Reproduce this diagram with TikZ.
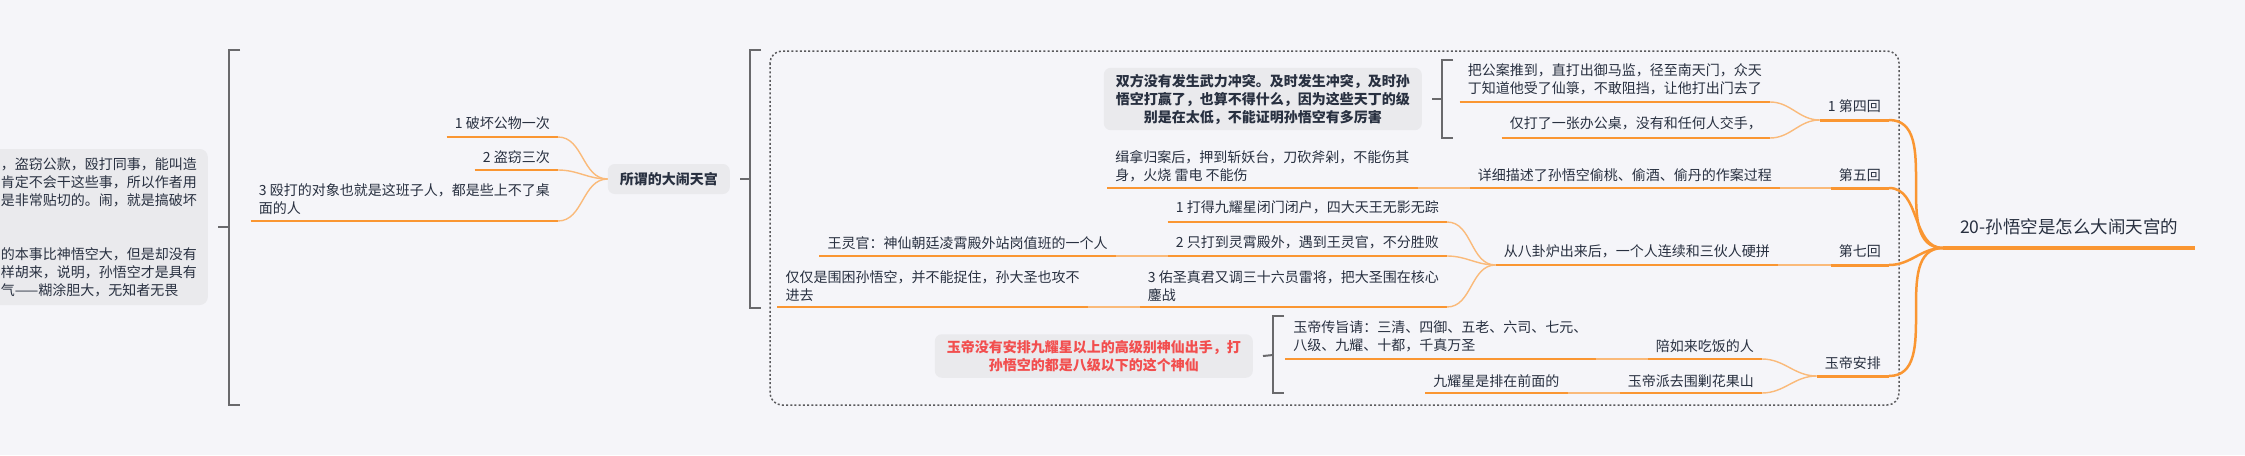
\documentclass[tikz,border=0pt]{standalone}
\usepackage{fontspec}
\setmainfont{Noto Sans CJK SC}
\usetikzlibrary{
    positioning,
    calc,
    backgrounds
}

\definecolor{paper}{RGB}{245,245,249}
\definecolor{ink}{RGB}{40,48,64}
\definecolor{branch}{RGB}{250,150,50}
\definecolor{branchlight}{RGB}{250,186,122}
\definecolor{bracegray}{RGB}{105,105,108}
\definecolor{boxgray}{RGB}{234,234,237}
\definecolor{alertred}{RGB}{242,78,78}

\begin{document}
\begin{tikzpicture}[
    x=1pt, y=-1pt,
    font=\fontsize{14}{18}\selectfont,
    topic/.style={
        anchor=south east,
        inner xsep=8pt,
        inner ysep=0pt,
        minimum height=26pt,
        text=ink
    },
    twoline/.style={topic, align=left, minimum height=44pt},
    roottopic/.style={topic, anchor=south west, font=\fontsize{17.5}{21}\selectfont,
        minimum width=252pt, minimum height=42pt},
    summary/.style={
        rectangle,
        rounded corners=7pt,
        fill=boxgray,
        text=ink,
        font=\fontsize{14}{18}\selectfont\bfseries,
        align=center,
        inner xsep=12pt,
        inner ysep=6pt,
        anchor=east
    },
    underline/.style={draw=branch, line width=2pt},
    mainline/.style={draw=branch, line width=3pt},
    rootline/.style={draw=branch, line width=3.5pt},
    link/.style={draw=branchlight, line width=1.4pt},
    mainlink/.style={draw=branch, line width=2.5pt},
    brace/.style={draw=bracegray, line width=2pt},
    boundary/.style={draw=bracegray!85!black, line width=1.5pt, dash pattern=on 2pt off 2.2pt,
        rounded corners=12pt}
]

\useasboundingbox (0,0) rectangle (2245,455);

% ---------------------------------------------------------------- Root and main branches
\node[roottopic] (root) at (1943,248) {20-孙悟空是怎么大闹天宫的};
\node[topic, minimum height=28pt] (hui4) at (1889,120) {1 第四回};
\node[topic]                      (hui5) at (1889,188) {第五回};
\node[topic, minimum height=28pt] (hui7) at (1889,265) {第七回};
\node[topic]                      (ydap) at (1889,376) {玉帝安排};

% ---------------------------------------------------------------- Chapter 4
\node[twoline] (gongan) at (1770,102) {把公案推到，直打出御马监，径至南天门，众天\\丁知道他受了仙箓，不敢阻挡，让他打出门去了};
\node[topic, minimum height=28pt] (zhuo) at (1770,138) {仅打了一张办公桌，没有和任何人交手，};
\node[summary] (shuangfang) at (1422,99) {双方没有发生武力冲突。及时发生冲突，及时孙\\悟空打赢了，也算不得什么，因为这些天丁的级\\别是在太低，不能证明孙悟空有多厉害};

% ---------------------------------------------------------------- Chapter 5
\node[topic]   (xiangxi) at (1780,188) {详细描述了孙悟空偷桃、偷酒、偷丹的作案过程};
\node[twoline] (jina) at ([xshift=-52pt]xiangxi.south west) {缉拿归案后，押到斩妖台，刀砍斧剁，不能伤其\\身，火烧 雷电 不能伤};

% ---------------------------------------------------------------- Chapter 7
\node[topic] (bagua) at (1778,265) {从八卦炉出来后，一个人连续和三伙人硬拼};
\node[topic, minimum height=28pt] (jiuyao) at (1447,222) {1 打得九耀星闭门闭户，四大天王无影无踪};
\node[topic] (lingxiao) at (1447,256) {2 只打到灵霄殿外，遇到王灵官，不分胜败};
\node[twoline, minimum height=42pt] (leijiang) at (1447,307) {3 佑圣真君又调三十六员雷将，把大圣围在核心\\鏖战};
\node[topic] (wanglg) at ([xshift=-52pt]lingxiao.south west) {王灵官：神仙朝廷凌霄殿外站岗值班的一个人};
\node[twoline, minimum height=42pt] (weikun) at ([xshift=-52pt]leijiang.south west) {仅仅是围困孙悟空，并不能捉住，孙大圣也攻不\\进去};

% ---------------------------------------------------------------- Jade Emperor
\node[topic] (peirulai) at (1762,359) {陪如来吃饭的人};
\node[topic, minimum height=24pt] (weijiao) at (1762,393) {玉帝派去围剿花果山};
\node[twoline] (chuanzhi) at ([xshift=-52pt]peirulai.south west) {玉帝传旨请：三清、四御、五老、六司、七元、\\八级、九耀、十都，千真万圣};
\node[topic, minimum height=24pt] (paiqian) at ([xshift=-52pt]weijiao.south west) {九耀星是排在前面的};
\node[summary, text=alertred] (yudi) at (1253,356) {玉帝没有安排九耀星以上的高级别神仙出手，打\\孙悟空的都是八级以下的这个神仙};

% ---------------------------------------------------------------- What it means
\node[summary, minimum height=30pt] (suowei) at (730,179) {所谓的大闹天宫};
\node[topic, minimum height=28pt] (pohuai) at (558,137) {1 破坏公物一次};
\node[topic] (daoqie) at (558,170) {2 盗窃三次};
\node[twoline] (ouda) at (558,221) {3 殴打的对象也就是这班子人，都是些上不了桌\\面的人};

% left note, running off the page
\node[summary, font=\fontsize{14}{18}\selectfont, align=left, minimum height=156pt,
      inner xsep=11pt, rounded corners=8pt] (zuobian) at (208,227)
     {，盗窃公款，殴打同事，能叫造\\肯定不会干这些事，所以作者用\\是非常贴切的。闹，就是搞破坏\\[36pt]的本事比神悟空大，但是却没有\\样胡来，说明，孙悟空才是具有\\气——糊涂胆大，无知者无畏};

% ---------------------------------------------------------------- Underlines
\foreach \t in {gongan,zhuo,xiangxi,jina,bagua,jiuyao,lingxiao,leijiang,wanglg,weikun,
                peirulai,weijiao,chuanzhi,paiqian,pohuai,daoqie,ouda}
    \draw[underline] (\t.south west) -- (\t.south east);
\foreach \t in {hui4,hui5,hui7,ydap}
    \draw[mainline] (\t.south west) -- (\t.south east);
\draw[rootline] (root.south west) -- (root.south east);

% ---------------------------------------------------------------- Connections
\foreach \t in {hui4,hui5,hui7,ydap}
    \draw[mainlink] (\t.south east) to[out=0, in=180] (root.south west);
\foreach \t in {gongan,zhuo}
    \draw[link] (\t.south east) to[out=0, in=180] (hui4.south west);
\draw[link] (xiangxi.south east) -- (hui5.south west);
\draw[link] (jina.south east) -- (xiangxi.south west);
\draw[link] (bagua.south east) -- (hui7.south west);
\foreach \t in {jiuyao,lingxiao,leijiang}
    \draw[link] (\t.south east) to[out=0, in=180] (bagua.south west);
\draw[link] (wanglg.south east) -- (lingxiao.south west);
\draw[link] (weikun.south east) -- (leijiang.south west);
\foreach \t in {peirulai,weijiao}
    \draw[link] (\t.south east) to[out=0, in=180] (ydap.south west);
\draw[link] (chuanzhi.south east) -- (peirulai.south west);
\draw[link] (paiqian.south east) -- (weijiao.south west);
\foreach \t in {pohuai,daoqie,ouda}
    \draw[link] (\t.south east) to[out=0, in=180] (suowei.west);

% ---------------------------------------------------------------- Summary braces
\coordinate (braceA) at (229,227);
\coordinate (braceB) at (750,179);
\coordinate (braceC) at (1442,99);
\coordinate (braceD) at (1273,355);
\draw[brace] (240,50) -| (229,405) -- (240,405);
\draw[brace] ([xshift=10pt]zuobian.east) -- (braceA);
\draw[brace] (761,50) -| (750,308) -- (761,308);
\draw[brace] ([xshift=10pt]suowei.east) -- (braceB);
\draw[brace] (1453,60) -| (1442,138) -- (1453,138);
\draw[brace] ([xshift=10pt]shuangfang.east) -- (braceC);
\draw[brace] (1284,316) -| (1273,393) -- (1284,393);
\draw[brace] ([xshift=10pt]yudi.east) -- (braceD);

% ---------------------------------------------------------------- Paper and boundary
\begin{scope}[on background layer]
    \fill[paper] (0,0) rectangle (2245,455);
    \draw[boundary] (770,51) rectangle (1899,405);
\end{scope}

\end{tikzpicture}
\end{document}
